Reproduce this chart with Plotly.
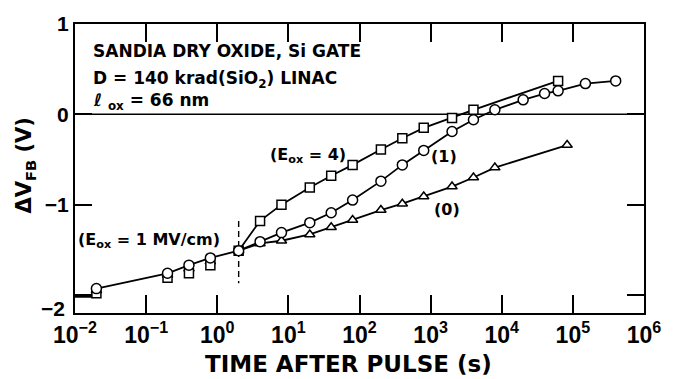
import plotly.graph_objects as go

# ---- data ----
t_circ = [0.02, 0.2, 0.4, 0.8, 2, 4, 8, 20, 40, 80, 200, 400, 800, 2000, 4000,
          8000, 20000, 40000, 62000, 150000, 400000]
v_circ = [-1.93, -1.76, -1.67, -1.59, -1.51, -1.41, -1.31, -1.20, -1.09, -0.95,
          -0.74, -0.56, -0.40, -0.19, -0.06, 0.05, 0.16, 0.23, 0.26, 0.34, 0.37]

t_sq = [0.02, 0.2, 0.4, 0.8, 2, 4, 8, 20, 40, 80, 200, 400, 800, 2000, 4000, 62000]
v_sq = [-1.98, -1.81, -1.76, -1.67, -1.51, -1.18, -1.00, -0.81, -0.68, -0.56,
        -0.39, -0.265, -0.15, -0.04, 0.05, 0.37]

t_tri = [0.02, 0.2, 0.4, 0.8, 2, 4, 8, 20, 40, 80, 200, 400, 800, 2000, 4000,
         8000, 83000]
v_tri = [-1.95, -1.78, -1.71, -1.63, -1.51, -1.43, -1.40, -1.33, -1.25, -1.17,
         -1.06, -0.99, -0.91, -0.80, -0.70, -0.59, -0.34]

n_early = 4  # early points share one fitted curve (drawn through circles)

t_stub = [0.01, 0.0178, 0.02]
v_stub = [-2.02, -2.02, -1.93]

t_dash = [2, 2]
v_dash = [-1.18, -1.87]

x_tickvals = [1e-2, 1e-1, 1e0, 1e1, 1e2, 1e3, 1e4, 1e5, 1e6]
x_ticktext = ["10<sup>\u22122</sup>", "10<sup>\u22121</sup>", "10<sup>0</sup>",
              "10<sup>1</sup>", "10<sup>2</sup>", "10<sup>3</sup>",
              "10<sup>4</sup>", "10<sup>5</sup>", "10<sup>6</sup>"]
y_tickvals = [-2, -1, 0, 1]
y_ticktext = ["", "\u22121", "0", "1"]
y_bottom_label = "\u22122"   # drawn slightly below its tick, as in the reference

# ---- styling ----
BLACK = "black"
LW = 1.8
MK_LINE = dict(color=BLACK, width=1.5)
TXT = "DejaVu Sans"
NUM = "Liberation Sans"

fig = go.Figure()

fig.add_trace(go.Scatter(x=t_stub, y=v_stub, mode="lines",
                         line=dict(color=BLACK, width=LW), showlegend=False,
                         hoverinfo="skip"))
fig.add_trace(go.Scatter(x=t_dash, y=v_dash, mode="lines",
                         line=dict(color=BLACK, width=1.4, dash="6px,4px"),
                         showlegend=False, hoverinfo="skip"))

# triangles (E = 0)
fig.add_trace(go.Scatter(x=t_tri[:n_early], y=v_tri[:n_early], mode="markers",
                         marker=dict(symbol="triangle-up", size=9, color="white",
                                     line=MK_LINE), showlegend=False))
fig.add_trace(go.Scatter(x=t_tri[n_early:], y=v_tri[n_early:], mode="lines+markers",
                         line=dict(color=BLACK, width=LW),
                         marker=dict(symbol="triangle-up", size=9, color="white",
                                     line=MK_LINE), showlegend=False))
# squares (E = 4)
fig.add_trace(go.Scatter(x=t_sq[:n_early], y=v_sq[:n_early], mode="markers",
                         marker=dict(symbol="square", size=9, color="white",
                                     line=MK_LINE), showlegend=False))
fig.add_trace(go.Scatter(x=t_sq[n_early:], y=v_sq[n_early:], mode="lines+markers",
                         line=dict(color=BLACK, width=LW),
                         marker=dict(symbol="square", size=9, color="white",
                                     line=MK_LINE), showlegend=False))
# circles (E = 1)
fig.add_trace(go.Scatter(x=t_circ, y=v_circ, mode="lines+markers",
                         line=dict(color=BLACK, width=LW),
                         marker=dict(symbol="circle", size=10, color="white",
                                     line=MK_LINE), showlegend=False))

# zero line
fig.add_shape(type="line", xref="paper", yref="y", x0=0, x1=1, y0=0, y1=0,
              line=dict(color=BLACK, width=1.6), layer="below")

X0, X1, Y0, Y1 = 75, 655, 15, 313


def px(x):
    return (x - X0) / (X1 - X0)


def py(y):
    return (Y1 - y) / (Y1 - Y0)


def ann(text, x, y, size=17, xanchor="left", family=TXT, angle=0):
    fig.add_annotation(text=text, xref="paper", yref="paper", x=px(x), y=py(y),
                       xanchor=xanchor, yanchor="middle", showarrow=False,
                       textangle=angle,
                       font=dict(family=family, size=size, color=BLACK,
                                 weight="bold"))


ann("SANDIA DRY OXIDE, Si GATE", 91, 43)
ann("D = 140 krad(SiO<sub>2</sub>) LINAC", 91, 72)
ann("\u2113 <sub>ox</sub> = 66 nm", 91, 95)
ann("(E<sub>ox</sub> = 4)", 272, 151, size=16)
ann("(1)", 436, 152, size=16)
ann("(0)", 439, 206, size=16)
ann("(E<sub>ox</sub> = 1 MV/cm)", 76, 238, size=16)
ann("TIME AFTER PULSE (s)", 354, 366, size=23, xanchor="center")
ann("\u0394V<sub>FB</sub> (V)", 24, 160, size=21, xanchor="center", angle=-90)
ann(y_bottom_label, 67, 308, size=21, xanchor="right", family=NUM)

fig.update_xaxes(type="log", range=[-2, 6], tickvals=x_tickvals, ticktext=x_ticktext,
                 ticks="inside", ticklen=18, tickwidth=2, tickcolor=BLACK,
                 showline=True, linewidth=2, linecolor=BLACK, mirror="ticks",
                 showgrid=False, zeroline=False,
                 tickfont=dict(family=NUM, size=23, color=BLACK, weight="bold"))
fig.update_yaxes(range=[-2.2, 1], tickvals=y_tickvals, ticktext=y_ticktext,
                 ticks="inside", ticklen=17, tickwidth=2, tickcolor=BLACK,
                 showline=True, linewidth=2, linecolor=BLACK, mirror="ticks",
                 showgrid=False, zeroline=False,
                 tickfont=dict(family=NUM, size=21, color=BLACK, weight="bold"))

fig.update_layout(width=673, height=379, margin=dict(l=X0, r=673 - X1, t=Y0, b=379 - Y1),
                  paper_bgcolor="white", plot_bgcolor="white", showlegend=False)

fig.write_html("out.html")
